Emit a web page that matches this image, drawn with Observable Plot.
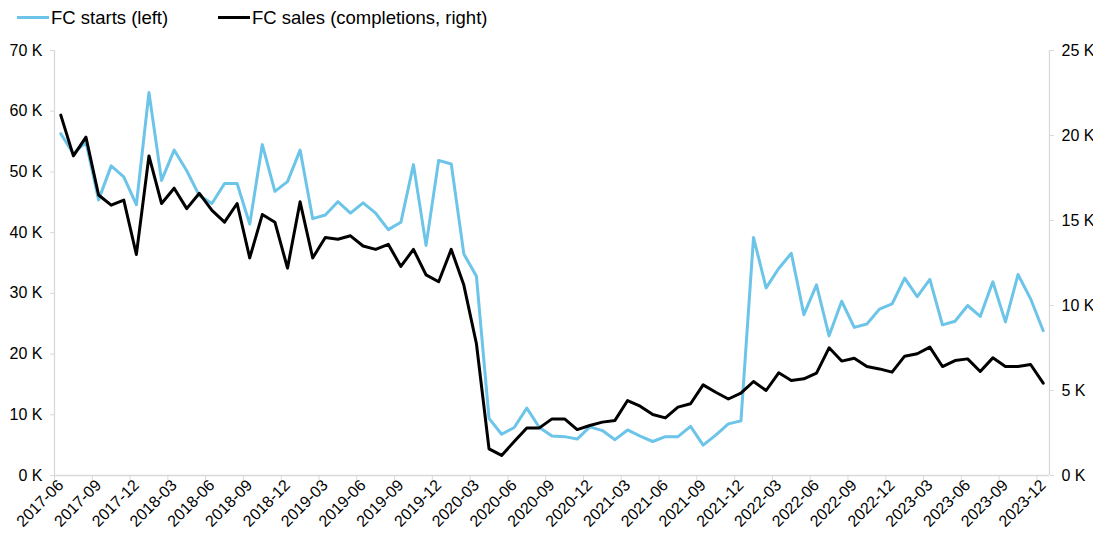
<!DOCTYPE html>
<html>
<head>
<meta charset="utf-8">
<script src="https://cdn.jsdelivr.net/npm/d3@7"></script>
<script src="https://cdn.jsdelivr.net/npm/@observablehq/plot@0.6"></script>
<style>
  html, body { margin: 0; padding: 0; background: #fff; }
  body { width: 1093px; height: 533px; overflow: hidden; font-family: "Liberation Sans", Arial, sans-serif; }
  #legend { height: 36px; position: relative; font-size: 18.5px; color: #000; }
  .item { position: absolute; top: 7px; display: flex; align-items: center; line-height: 21px; }
  .sw { width: 32px; height: 3px; margin-right: 2px; }
</style>
</head>
<body>
<div id="legend"></div>
<div id="chart"></div>
<script>
// Months (2017-06 .. 2023-12)
const months = [];
for (let y = 2017, m = 6; y < 2024; ) {
  months.push(`${y}-${String(m).padStart(2, "0")}`);
  m++; if (m > 12) { m = 1; y++; }
}
// FC starts (left axis), thousands
const startsK = [
  56.3, 53.0, 54.9, 45.4, 51.0, 49.2, 44.6, 63.1, 48.6, 53.6,
  50.2, 46.1, 44.8, 48.1, 48.1, 41.4, 54.5, 46.8, 48.4, 53.6,
  42.3, 42.9, 45.1, 43.2, 44.9, 43.2, 40.5, 41.7, 51.2, 37.9,
  51.9, 51.3, 36.5, 32.8, 9.4, 6.8, 7.9, 11.1, 7.9, 6.5,
  6.4, 6.0, 8.0, 7.4, 5.9, 7.5, 6.5, 5.6, 6.4, 6.4,
  8.1, 5.0, 6.65, 8.5, 9.0, 39.2, 30.9, 34.1, 36.6, 26.5,
  31.4, 23.0, 28.7, 24.4, 24.95, 27.4, 28.25, 32.5, 29.45, 32.3,
  24.8, 25.4, 28.0, 26.2, 31.9, 25.3, 33.1, 29.1, 23.85
];
// FC sales (completions, right axis), thousands
const salesK = [
  21.2, 18.8, 19.9, 16.5, 15.9, 16.2, 13.0, 18.8, 16.0, 16.9,
  15.7, 16.6, 15.6, 14.9, 16.0, 12.8, 15.35, 14.9, 12.2, 16.1,
  12.8, 14.0, 13.9, 14.1, 13.5, 13.3, 13.6, 12.3, 13.3, 11.8,
  11.4, 13.3, 11.2, 7.75, 1.57, 1.18, 2.0, 2.8, 2.8, 3.33,
  3.33, 2.7, 2.94, 3.14, 3.24, 4.41, 4.08, 3.59, 3.39, 4.02,
  4.22, 5.33, 4.9, 4.5, 4.84, 5.53, 5.0, 6.04, 5.59, 5.69,
  6.02, 7.51, 6.73, 6.9, 6.41, 6.27, 6.08, 7.02, 7.16, 7.55,
  6.41, 6.76, 6.86, 6.12, 6.92, 6.41, 6.41, 6.53, 5.43
];
const seriesNames = ["FC starts (left)", "FC sales (completions, right)"];
const seriesColors = ["#6CC4E9", "#000000"];
const leftTicks = [0, 10, 20, 30, 40, 50, 60, 70];
const rightTicks = [0, 5, 10, 15, 20, 25];

const k = 70 / 25; // right-axis units mapped onto left-axis units
const data = months.map((m, i) => ({ i, month: m, starts: startsK[i], sales: salesK[i] }));
const labelIdx = d3.range(0, months.length, 3);
const tickIdx = labelIdx.map(i => i - 0.5);
const grey = "#d9d9d9";

const chart = Plot.plot({
  width: 1093,
  height: 497,
  marginTop: 14,
  marginBottom: 58,
  marginLeft: 54,
  marginRight: 44,
  style: { fontFamily: "'Liberation Sans', Arial, sans-serif", fontSize: "16px", color: "#000", background: "#fff" },
  x: { domain: [-0.5, months.length - 0.5] },
  y: { domain: [0, 70] },
  marks: [
    Plot.ruleY([0], { stroke: grey, strokeWidth: 1.3 }),
    Plot.ruleX([-0.5], { stroke: grey, strokeWidth: 1.3 }),
    Plot.ruleX([months.length - 0.5], { stroke: grey, strokeWidth: 1.3 }),
    Plot.axisY(leftTicks, { anchor: "left", tickSize: 4, tickPadding: 8, stroke: grey, tickFormat: d => `${d} K`, label: null }),
    Plot.axisY(rightTicks.map(v => v * k), { anchor: "right", tickSize: 4, tickPadding: 8, stroke: grey, tickFormat: v => `${Math.round(v / k)} K`, label: null }),
    Plot.axisX(tickIdx, { tickSize: 5, stroke: grey, tickFormat: () => "", label: null }),
    Plot.axisX(labelIdx, { tickSize: 0, tickPadding: 7, tickRotate: -45, tickFormat: i => months[i], label: null }),
    Plot.line(data, { x: "i", y: "starts", stroke: seriesColors[0], strokeWidth: 3, strokeLinejoin: "round", strokeLinecap: "round" }),
    Plot.line(data, { x: "i", y: d => d.sales * k, stroke: seriesColors[1], strokeWidth: 3, strokeLinejoin: "round", strokeLinecap: "round" })
  ]
});
document.getElementById("chart").appendChild(chart);

const legend = document.getElementById("legend");
const lefts = [17, 218];
seriesNames.forEach((name, j) => {
  const it = document.createElement("div");
  it.className = "item";
  it.style.left = lefts[j] + "px";
  it.innerHTML = `<span class="sw" style="background:${seriesColors[j]}"></span><span>${name}</span>`;
  legend.appendChild(it);
});
</script>
</body>
</html>
